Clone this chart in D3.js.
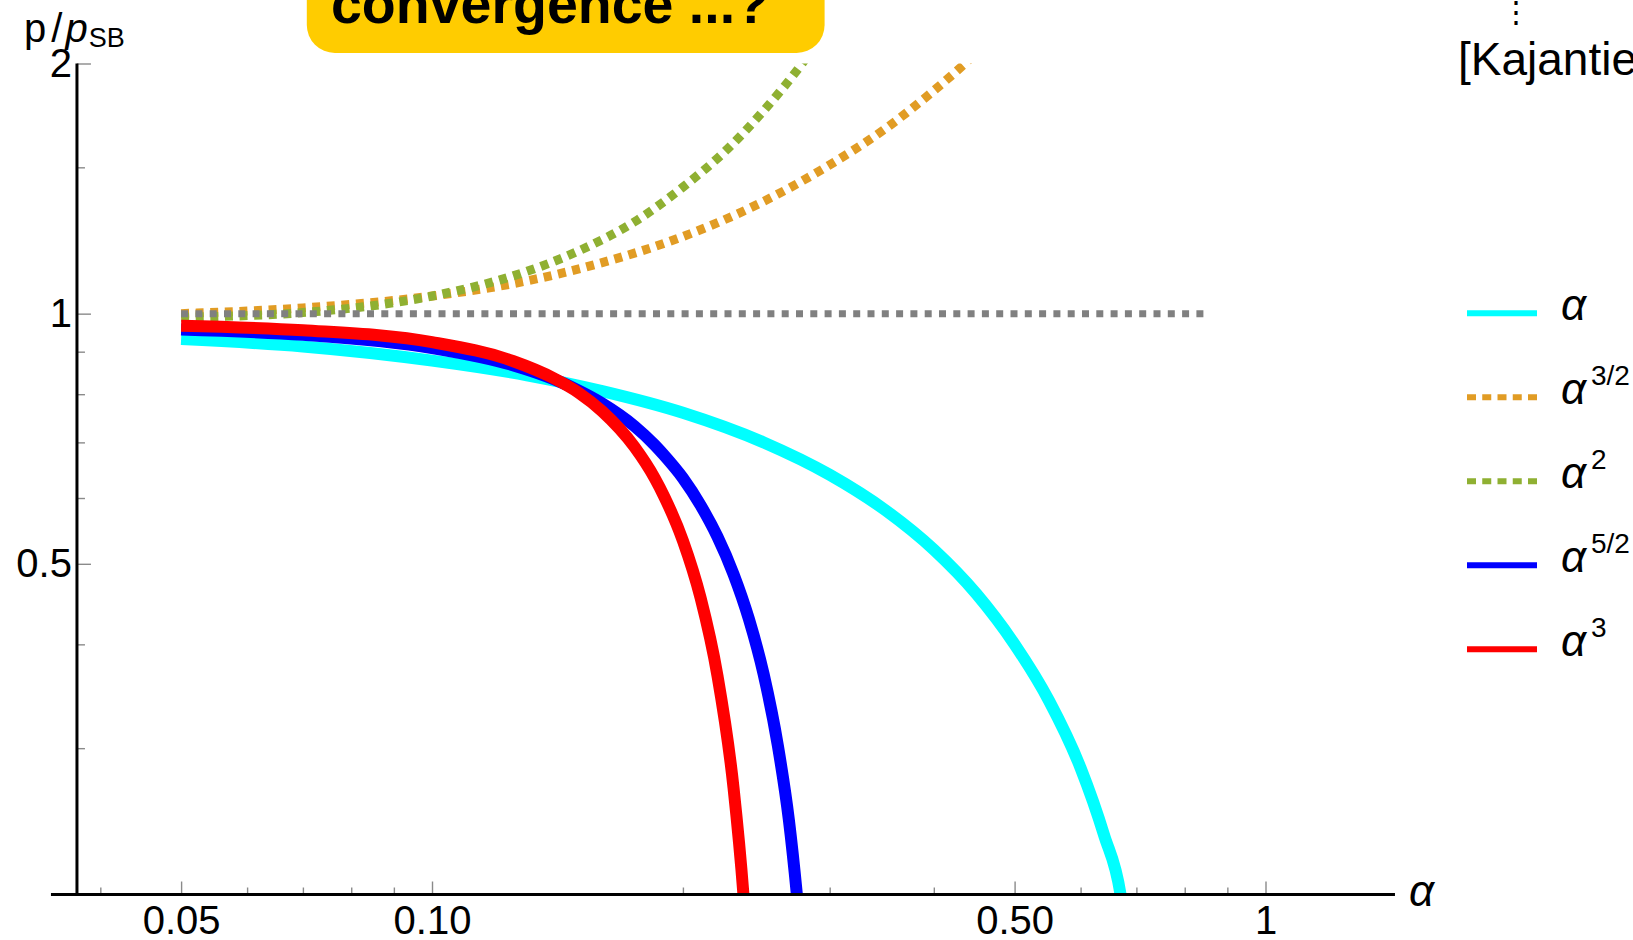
<!DOCTYPE html>
<html>
<head>
<meta charset="utf-8">
<title>p/p_SB versus alpha</title>
<script src="https://cdn.jsdelivr.net/npm/d3@7"></script>
<style>
  html, body { margin: 0; padding: 0; background: #ffffff; }
  svg { display: block; }
  text { font-family: "Liberation Sans", Arial, Helvetica, sans-serif; fill: #000; }
</style>
</head>
<body>
<svg id="chart" width="1633" height="940"></svg>
<script>
// ---- tick values and labels ----
const xMajorTicks = [0.05, 0.1, 0.5, 1];
const xMajorLabels = ["0.05", "0.10", "0.50", "1"];
const xMinorTicks = [0.04, 0.06, 0.07, 0.08, 0.09, 0.2, 0.3, 0.4, 0.6, 0.7, 0.8, 0.9];
const yMajorTicks = [0.2, 0.5, 1, 2];
const yMajorLabels = ["", "0.5", "1", "2"];
const yMinorTicks = [0.3, 0.4, 0.6, 0.7, 0.8, 0.9, 1.5];

// ---- truncated weak-coupling series of p/p_SB, order by order: [alpha, p/p_SB] ----
const orderAlpha1 = [[0.05, 0.932], [0.07, 0.913], [0.1, 0.878], [0.13, 0.843], [0.16, 0.807],
  [0.2, 0.76], [0.25, 0.70], [0.3, 0.64], [0.35, 0.58], [0.4, 0.52], [0.45, 0.46], [0.5, 0.40],
  [0.55, 0.342], [0.6, 0.284], [0.64, 0.236], [0.67, 0.2], [0.675, 0.19]];
const orderAlpha32 = [[0.05, 1.0], [0.07, 1.016], [0.1, 1.05], [0.13, 1.095], [0.16, 1.152],
  [0.2, 1.238], [0.25, 1.365], [0.3, 1.51], [0.35, 1.67], [0.4, 1.855], [0.436, 2.0], [0.45, 2.06]];
const orderAlpha2 = [[0.05, 0.99], [0.07, 1.003], [0.1, 1.05], [0.125, 1.11], [0.15, 1.19],
  [0.175, 1.29], [0.2, 1.42], [0.225, 1.57], [0.25, 1.755], [0.278, 2.0], [0.285, 2.07]];
const orderAlpha52 = [[0.05, 0.957], [0.07, 0.943], [0.1, 0.909], [0.125, 0.867], [0.14, 0.834],
  [0.15, 0.808], [0.16, 0.78], [0.175, 0.732], [0.185, 0.695], [0.19, 0.675], [0.2, 0.634],
  [0.21, 0.588], [0.22, 0.539], [0.23, 0.486], [0.24, 0.429], [0.25, 0.368], [0.26, 0.302],
  [0.268, 0.246], [0.274, 0.2], [0.276, 0.185]];
const orderAlpha3 = [[0.05, 0.967], [0.07, 0.955], [0.1, 0.924], [0.125, 0.877], [0.14, 0.836],
  [0.15, 0.803], [0.16, 0.763], [0.175, 0.691], [0.185, 0.634], [0.19, 0.602], [0.2, 0.533],
  [0.21, 0.455], [0.22, 0.367], [0.23, 0.269], [0.2364, 0.2], [0.238, 0.182]];
// Stefan-Boltzmann (free) limit
const freeLimit = [[0.05, 1], [0.85, 1]];

const seriesData = [orderAlpha1, orderAlpha32, orderAlpha2, orderAlpha52, orderAlpha3];
const seriesExponents = ["", "3/2", "2", "5/2", "3"];
const seriesColors = ["#00ffff", "#e19c24", "#8fb032", "#0000ff", "#ff0000"];
const seriesDotted = [false, true, true, false, false];

// ---- layout ----
const W = 1633, H = 940;
const alphaLo = 0.0349, alphaHi = 1.43, alphaAxisAt = 0.0375;
const pLo = 0.2, pHi = 2;

const svg = d3.select("#chart");
svg.append("rect").attr("width", W).attr("height", H).attr("fill", "#ffffff");

const x = d3.scaleLog().domain([0.05, 1]).range([181.1, 1265.5]);
const y = d3.scaleLog().domain([pLo, pHi]).range([894.5, 63.5]);

// clip region = plot range
svg.append("defs").append("clipPath").attr("id", "plotClip")
  .append("rect")
  .attr("x", x(alphaLo)).attr("y", y(pHi))
  .attr("width", x(alphaHi) - x(alphaLo)).attr("height", y(pLo) - y(pHi));

const line = d3.line().x(d => x(d[0])).y(d => y(d[1])).curve(d3.curveMonotoneX);

const curves = svg.append("g").attr("clip-path", "url(#plotClip)");
seriesData.forEach((data, i) => {
  curves.append("path")
    .datum(data)
    .attr("d", line)
    .attr("fill", "none")
    .attr("stroke", seriesColors[i])
    .attr("stroke-width", seriesDotted[i] ? 9 : 12)
    .attr("stroke-dasharray", seriesDotted[i] ? "8 6.6" : null)
    .attr("stroke-linecap", "butt")
    .attr("stroke-linejoin", "round");
});
curves.append("path")
  .datum(freeLimit)
  .attr("d", d3.line().x(d => x(d[0])).y(d => y(d[1])))
  .attr("fill", "none")
  .attr("stroke", "#808080")
  .attr("stroke-width", 7)
  .attr("stroke-dasharray", "7 7.3");

// ---- axes ----
const tickColor = "#8a8a8a";
function styleAxis(g, fontSize) {
  g.select(".domain").remove();
  g.selectAll(".tick line").attr("stroke", tickColor).attr("stroke-width", 1.4);
  g.selectAll(".tick text")
    .attr("font-size", fontSize)
    .attr("font-family", "'Liberation Sans', Arial, sans-serif")
    .attr("fill", "#000");
}

const xAxisY = y(pLo);
const xMinorG = svg.append("g").attr("transform", `translate(0,${xAxisY})`)
  .call(d3.axisBottom(x).tickValues(xMinorTicks).tickSizeInner(-7).tickSizeOuter(0).tickFormat(""));
styleAxis(xMinorG, 40);
const xMajorG = svg.append("g").attr("transform", `translate(0,${xAxisY})`)
  .call(d3.axisBottom(x).tickValues(xMajorTicks).tickSizeInner(-13).tickSizeOuter(0)
    .tickPadding(11).tickFormat((d, i) => xMajorLabels[i]));
styleAxis(xMajorG, 40);

const yAxisX = x(alphaAxisAt);
const yMinorG = svg.append("g").attr("transform", `translate(${yAxisX},0)`)
  .call(d3.axisLeft(y).tickValues(yMinorTicks).tickSizeInner(-8).tickSizeOuter(0).tickFormat(""));
styleAxis(yMinorG, 40);
const yMajorG = svg.append("g").attr("transform", `translate(${yAxisX},0)`)
  .call(d3.axisLeft(y).tickValues(yMajorTicks).tickSizeInner(-14).tickSizeOuter(0)
    .tickPadding(5).tickFormat((d, i) => yMajorLabels[i]));
styleAxis(yMajorG, 40);

// axis lines
svg.append("line")
  .attr("x1", x(alphaLo)).attr("x2", x(alphaHi))
  .attr("y1", xAxisY).attr("y2", xAxisY)
  .attr("stroke", "#000").attr("stroke-width", 3);
svg.append("line")
  .attr("x1", yAxisX).attr("x2", yAxisX)
  .attr("y1", y(pLo)).attr("y2", y(pHi))
  .attr("stroke", "#000").attr("stroke-width", 3);

// axis titles
const greekFont = "'DejaVu Sans', sans-serif";
svg.append("text")
  .attr("x", x(alphaHi) + 14).attr("y", xAxisY + 11)
  .attr("font-family", greekFont)
  .attr("font-size", 44).attr("font-style", "italic")
  .text("α");

const yTitle = svg.append("text").attr("x", 24).attr("y", 42).attr("font-size", 40);
yTitle.append("tspan").text("p");
yTitle.append("tspan").attr("dx", 5).text("/");
yTitle.append("tspan").attr("dx", 3).attr("font-style", "italic").text("p");
yTitle.append("tspan").attr("font-size", 27).attr("dy", 5).attr("dx", 1).text("SB");

// ---- legend ----
const legendX1 = 1467, legendX2 = 1537, legendY0 = 313.3, legendStep = 84;
seriesData.forEach((_, i) => {
  const ly = legendY0 + i * legendStep;
  svg.append("line")
    .attr("x1", legendX1).attr("x2", legendX2)
    .attr("y1", ly).attr("y2", ly)
    .attr("stroke", seriesColors[i])
    .attr("stroke-width", 6)
    .attr("stroke-dasharray", seriesDotted[i] ? "9 6.25" : null);
  svg.append("text")
    .attr("x", 1561).attr("y", ly + 7)
    .attr("font-family", greekFont)
    .attr("font-size", 44).attr("font-style", "italic")
    .text("α");
  if (seriesExponents[i]) {
    svg.append("text")
      .attr("x", 1591).attr("y", ly - 12)
      .attr("font-size", 28)
      .text(seriesExponents[i]);
  }
});

// ---- annotation box ----
svg.append("rect")
  .attr("x", 306.8).attr("y", -40)
  .attr("width", 517.8).attr("height", 93)
  .attr("rx", 28).attr("ry", 28)
  .attr("fill", "#ffcc00");
svg.append("text")
  .attr("x", 331).attr("y", 23)
  .attr("font-size", 55.5).attr("font-weight", "bold")
  .text("convergence ...?");

// ---- reference note (top right) ----
svg.append("text")
  .attr("x", 1516).attr("y", 22)
  .attr("text-anchor", "middle")
  .attr("font-size", 30)
  .attr("font-family", "'DejaVu Sans', sans-serif")
  .text("⋮");
svg.append("text")
  .attr("x", 1458).attr("y", 75)
  .attr("font-size", 46)
  .text("[Kajantie");
</script>
</body>
</html>
